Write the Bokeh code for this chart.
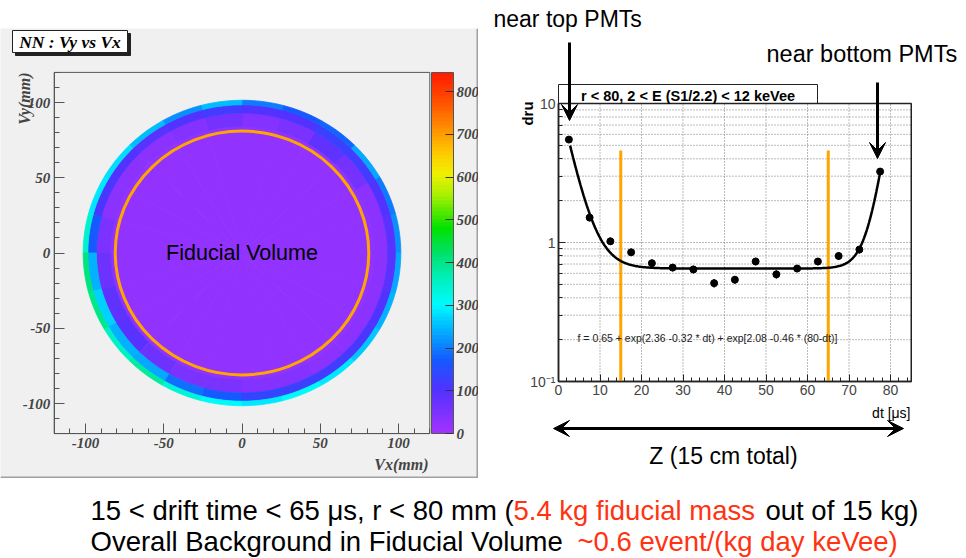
import numpy as np
from bokeh.plotting import figure
from bokeh.models import (ColumnDataSource, LinearColorMapper, ColorBar, FixedTicker,
                          SingleIntervalTicker, Label, Arrow, VeeHead, Range1d,
                          CustomJSTickFormatter, Spacer)
from bokeh.layouts import row, column
from bokeh.embed import file_html
from bokeh.resources import INLINE
from bokeh.core.properties import value

# ---------------- data: left panel (NN : Vy vs Vx) ----------------
ring_edges = [0, 84, 93, 98.5, 101.5]             # mm, radial bin edges
sector_start_deg = list(range(0, 360, 15))        # angular bins (15 deg wide)
counts_core = [20, 21, 20, 22, 21, 20, 22, 21, 20, 19, 20, 21,
               22, 21, 20, 20, 21, 22, 21, 20, 19, 20, 21, 20]
counts_inner = [30, 35, 60, 80, 45, 40, 55, 40, 30, 28, 30, 45,
                70, 80, 90, 70, 50, 45, 40, 40, 35, 30, 30, 30]
counts_mid = [90, 100, 120, 130, 105, 100, 120, 100, 95, 100, 110, 170,
              240, 270, 240, 230, 190, 170, 140, 130, 120, 110, 100, 90]
counts_edge = [220, 200, 230, 180, 170, 200, 250, 220, 250, 280, 290, 350,
               410, 400, 360, 380, 340, 300, 290, 300, 290, 260, 240, 230]
color_max = 845
colorbar_ticks = [0, 100, 200, 300, 400, 500, 600, 700, 800]
fiducial_radius = 81
vx_ticks_interval = 50

# ---------------- data: right panel (rate vs drift time) ----------------
dt_centers = [2.5, 7.5, 12.5, 17.5, 22.5, 27.5, 32.5, 37.5,
              42.5, 47.5, 52.5, 57.5, 62.5, 67.5, 72.5, 77.5]
dru_rate = [5.5, 1.51, 1.02, 0.85, 0.71, 0.66, 0.64, 0.51,
            0.54, 0.73, 0.59, 0.65, 0.73, 0.80, 0.89, 3.24]
dru_err = [0.25, 0.09, 0.06, 0.05, 0.04, 0.04, 0.04, 0.035,
           0.035, 0.045, 0.04, 0.04, 0.045, 0.05, 0.055, 0.17]
fit_const, fit_a1, fit_b1, fit_a2, fit_b2, fit_len = 0.65, 2.36, 0.32, 2.08, 0.46, 80
fit_dt_min, fit_dt_max = 2.8, 77.6
fiducial_dt_cuts = [15, 65]
fiducial_cut_top = 4.6
dt_axis = (0, 85)
dru_axis = (0.1, 10)
dt_grid = [10, 20, 30, 40, 50, 60, 70, 80]
y_major_ticks = [0.1, 1, 10]
y_minor_ticks = [m * d for d in (0.1, 1) for m in range(2, 10)]

# ---------------- palette (ROOT-like rainbow) ----------------
anchors = [(0, (160, 50, 255)), (100, (80, 50, 255)), (170, (20, 90, 255)),
           (250, (0, 190, 255)), (300, (0, 250, 255)), (360, (0, 240, 190)),
           (420, (0, 225, 110)), (480, (0, 225, 0)), (560, (170, 240, 0)),
           (610, (240, 240, 0)), (660, (255, 200, 0)), (710, (255, 150, 0)),
           (780, (255, 80, 0)), (845, (255, 30, 0))]
av = np.array([a[0] for a in anchors], float)
ac = np.array([a[1] for a in anchors], float)
palette = []
for t in np.linspace(0, color_max, 96):
    rgb = [int(round(np.interp(t, av, ac[:, k]))) for k in range(3)]
    palette.append("#%02x%02x%02x" % tuple(rgb))
mapper = LinearColorMapper(palette=palette, low=0, high=color_max)

SERIF = "Liberation Serif"
SANS = "Liberation Sans"
GRAY = "#f0f0f0"

# ================= left figure (frame = whole canvas, axes at fixed locations) ==========
LW, LH = 478, 450
L_X0, L_SX = 241.5, 1.565        # canvas px of x=0, px per mm
L_Y0, L_SY = 224.5, 1.505        # canvas px of y=0, px per mm
lx = lambda cx: (cx - L_X0) / L_SX
ly = lambda cy: (L_Y0 - cy) / L_SY

left = figure(width=LW, height=LH, x_range=Range1d(lx(0), lx(LW)), y_range=Range1d(ly(LH), ly(0)),
              output_backend="svg", toolbar_location=None, min_border=0)
left.background_fill_color = GRAY
left.border_fill_color = GRAY
left.outline_line_color = None
left.grid.visible = False

for ax in (left.xaxis[0], left.yaxis[0]):
    ax.ticker = SingleIntervalTicker(interval=vx_ticks_interval, num_minor_ticks=5)
    ax.formatter = CustomJSTickFormatter(code="return tick.toFixed(0);")
    ax.fixed_location = -120
    ax.bounds = (-120, 120)
    ax.major_tick_in = 10
    ax.major_tick_out = 0
    ax.minor_tick_in = 5
    ax.minor_tick_out = 0
    ax.axis_line_color = "#555555"
    ax.major_tick_line_color = "#555555"
    ax.minor_tick_line_color = "#555555"
    ax.major_label_text_font = SERIF
    ax.major_label_text_font_style = "bold italic"
    ax.major_label_text_font_size = "15px"
    ax.major_label_standoff = 4

# panel edge shading (right and bottom)
left.segment(x0=[lx(477), lx(0)], y0=[ly(0), ly(449)], x1=[lx(477), lx(478)], y1=[ly(450), ly(449)],
             line_color="#a0a0a0", line_width=2)

# frame box
left.quad(left=-120, right=120, bottom=-120, top=120, fill_color=None,
          line_color="#555555", line_width=1)

xs, ys, vals = [], [], []
for ri, counts in enumerate([counts_core, counts_inner, counts_mid, counts_edge]):
    r0, r1 = ring_edges[ri], ring_edges[ri + 1]
    for k, a0 in enumerate(sector_start_deg):
        th = np.radians(np.linspace(a0, a0 + 15, 8))
        xs.append(list(r1 * np.cos(th)) + list(r0 * np.cos(th[::-1])))
        ys.append(list(r1 * np.sin(th)) + list(r0 * np.sin(th[::-1])))
        vals.append(counts[k])
heat = ColumnDataSource(dict(xs=xs, ys=ys, v=vals))
left.patches("xs", "ys", source=heat, fill_color={"field": "v", "transform": mapper},
             line_color={"field": "v", "transform": mapper}, line_width=0.8)

left.ellipse(x=0, y=0, width=2 * fiducial_radius, height=2 * fiducial_radius,
             fill_color=None, line_color="#FFA500", line_width=3)
left.add_layout(Label(x=0, y=0, text="Fiducial Volume", text_align="center",
                      text_baseline="middle", text_font=SANS, text_font_size="21.5px",
                      text_color="black"))

cb = ColorBar(color_mapper=mapper, width=22, height=361, location=(431, 45),
              ticker=FixedTicker(ticks=colorbar_ticks), padding=0, margin=0, label_standoff=3,
              major_label_text_font=SERIF, major_label_text_font_style="bold italic",
              major_label_text_font_size="15px",
              major_tick_line_color="#333333", major_tick_in=8, major_tick_out=0,
              bar_line_color="#555555", background_fill_color=None, border_line_color=None)
left.add_layout(cb)

# title box with shadow
left.quad(left=lx(15), right=lx(130), top=ly(5), bottom=ly(27), fill_color="#222222",
          line_color="#222222")
left.quad(left=lx(12), right=lx(127), top=ly(2), bottom=ly(24), fill_color="white",
          line_color="#222222", line_width=1)
left.add_layout(Label(x=69.5, y=13.5, x_units="canvas", y_units="canvas", text="NN : Vy vs Vx",
                      text_align="center", text_baseline="middle", text_color="black",
                      text_font=SERIF, text_font_size="17.5px", text_font_style="bold italic"))
left.add_layout(Label(x=24, y=44, x_units="canvas", y_units="canvas", text="Vy(mm)",
                      angle=np.pi / 2, text_align="right", text_baseline="middle",
                      text_font=SERIF, text_font_size="16px", text_font_style="bold italic"))
left.add_layout(Label(x=428, y=436, x_units="canvas", y_units="canvas", text="Vx(mm)",
                      text_align="right", text_baseline="middle",
                      text_font=SERIF, text_font_size="16px", text_font_style="bold italic"))

left_col = column(Spacer(width=LW, height=28), left, spacing=0)

# ================= right figure (frame = whole canvas, axes at fixed locations) =========
RW, RH = 488, 478
R_X0, R_SX = 80, 4.15            # canvas px of dt=0, px per microsecond
R_Y10, R_SY = 103, 139           # canvas px of dru=10, px per decade
rx = lambda cx: (cx - R_X0) / R_SX
ry = lambda cy: 10 ** (1 - (cy - R_Y10) / R_SY)

right = figure(width=RW, height=RH, x_range=Range1d(rx(0), rx(RW)),
               y_range=Range1d(ry(RH), ry(0)), y_axis_type="log",
               output_backend="svg", toolbar_location=None, min_border=0)
right.background_fill_color = "white"
right.border_fill_color = "white"
right.outline_line_color = None
right.grid.visible = False

xa, ya = right.xaxis[0], right.yaxis[0]
xa.ticker = SingleIntervalTicker(interval=10, num_minor_ticks=5)
xa.fixed_location = dru_axis[0]
xa.bounds = dt_axis
ya.ticker = FixedTicker(ticks=y_major_ticks, minor_ticks=y_minor_ticks)
ya.formatter = CustomJSTickFormatter(code="return tick < 0.5 ? '10\u207b\u00b9' : tick.toFixed(0);")
ya.fixed_location = dt_axis[0]
ya.bounds = dru_axis
for ax in (xa, ya):
    ax.major_tick_in = 7
    ax.major_tick_out = 0
    ax.minor_tick_in = 4
    ax.minor_tick_out = 0
    ax.axis_line_color = "#222222"
    ax.axis_line_width = 1.5
    ax.major_tick_line_color = "#222222"
    ax.minor_tick_line_color = "#222222"
    ax.major_label_text_font = SANS
    ax.major_label_text_font_size = "14px"
    ax.major_label_standoff = 3

# dotted grid at the tick positions, limited to the plot box
hgrid = [1] + y_minor_ticks
right.segment(x0=dt_grid, y0=[dru_axis[0]] * len(dt_grid), x1=dt_grid,
              y1=[dru_axis[1]] * len(dt_grid), line_color="#777777", line_dash="1 2", line_width=1)
right.segment(x0=[dt_axis[0]] * len(hgrid), y0=hgrid, x1=[dt_axis[1]] * len(hgrid), y1=hgrid,
              line_color="#777777", line_dash="1 2", line_width=1)

# title box above the plot box
right.quad(left=rx(80), right=rx(339), top=ry(84), bottom=dru_axis[1], fill_color="white",
           line_color="#222222", line_width=1)
# plot box
right.quad(left=dt_axis[0], right=dt_axis[1], bottom=dru_axis[0], top=dru_axis[1],
           fill_color=None, line_color="#222222", line_width=1.5)

# fiducial drift-time cuts
right.segment(x0=fiducial_dt_cuts, y0=[dru_axis[0]] * len(fiducial_dt_cuts), x1=fiducial_dt_cuts,
              y1=[fiducial_cut_top] * len(fiducial_dt_cuts), line_color="#FFA500", line_width=3)

# fit curve
fdt = np.linspace(fit_dt_min, fit_dt_max, 300)
ffit = fit_const + np.exp(fit_a1 - fit_b1 * fdt) + np.exp(fit_a2 - fit_b2 * (fit_len - fdt))
right.line(fdt, ffit, line_color="black", line_width=2.5)

# data with error bars
lo = [v - e for v, e in zip(dru_rate, dru_err)]
hi = [v + e for v, e in zip(dru_rate, dru_err)]
right.segment(x0=dt_centers, y0=lo, x1=dt_centers, y1=hi, line_color="black", line_width=1.5)
right.scatter(dt_centers, dru_rate, size=7, color="black")

def rlabel(x, y, text, size, align="left", style="normal", angle=0.0, color="black"):
    right.add_layout(Label(x=x, y=y, x_units="canvas", y_units="canvas", text=text,
                           text_align=align, text_baseline="middle", text_font=SANS,
                           text_font_style=style, text_font_size=size, angle=angle,
                           text_color=color))

rlabel(209.5, 95, "r < 80, 2 < E (S1/2.2) < 12 keVee", "14.5px", align="center", style="bold")
rlabel(99, 337, "f = 0.65 + exp(2.36 -0.32 * dt) + exp[2.08 -0.46 * (80-dt)]", "10.5px",
       color="#222222")
rlabel(432, 412, "dt [\u03bcs]", "14px", align="right")
rlabel(49, 113, "dru", "15px", align="center", style="bold", angle=np.pi / 2)
rlabel(15, 18, "near top PMTs", "23px")
rlabel(288, 53, "near bottom PMTs", "23.5px")
rlabel(245, 455, "Z (15 cm total)", "23px", align="center")

def head():
    return VeeHead(size=16, fill_color="black", line_color="black")

right.add_layout(Arrow(x_start=91, y_start=42, x_end=91, y_end=120, start_units="canvas",
                       end_units="canvas", line_width=3, end=head()))
right.add_layout(Arrow(x_start=399, y_start=82, x_end=399, y_end=158, start_units="canvas",
                       end_units="canvas", line_width=3, end=head()))
right.add_layout(Arrow(x_start=75, y_start=428, x_end=425, y_end=428, start_units="canvas",
                       end_units="canvas", line_width=3, start=head(), end=head()))

# ================= bottom caption =================
bottom = figure(width=966, height=80, x_range=Range1d(0, 966), y_range=Range1d(80, 0),
                x_axis_type=None, y_axis_type=None, output_backend="svg", toolbar_location=None,
                min_border=0)
bottom.outline_line_color = None
bottom.grid.visible = False
RED = "#FF3311"
cap = ColumnDataSource(dict(
    x=[90, 513, 765, 90, 577],
    y=[32, 32, 32, 63, 63],
    t=["15 < drift time < 65 \u03bcs, r < 80 mm (", "5.4 kg fiducial mass", "out of 15 kg)",
       "Overall Background in Fiducial Volume", "~0.6 event/(kg day keVee)"],
    c=["black", RED, "black", "black", RED]))
bottom.text(x="x", y="y", text="t", text_color="c", source=cap, text_font=value(SANS),
            text_font_size="27.5px", text_align="left", text_baseline="alphabetic")

layout = column(row(left_col, right, spacing=0), bottom, spacing=0)
open("out.html", "w").write(file_html(layout, INLINE))
